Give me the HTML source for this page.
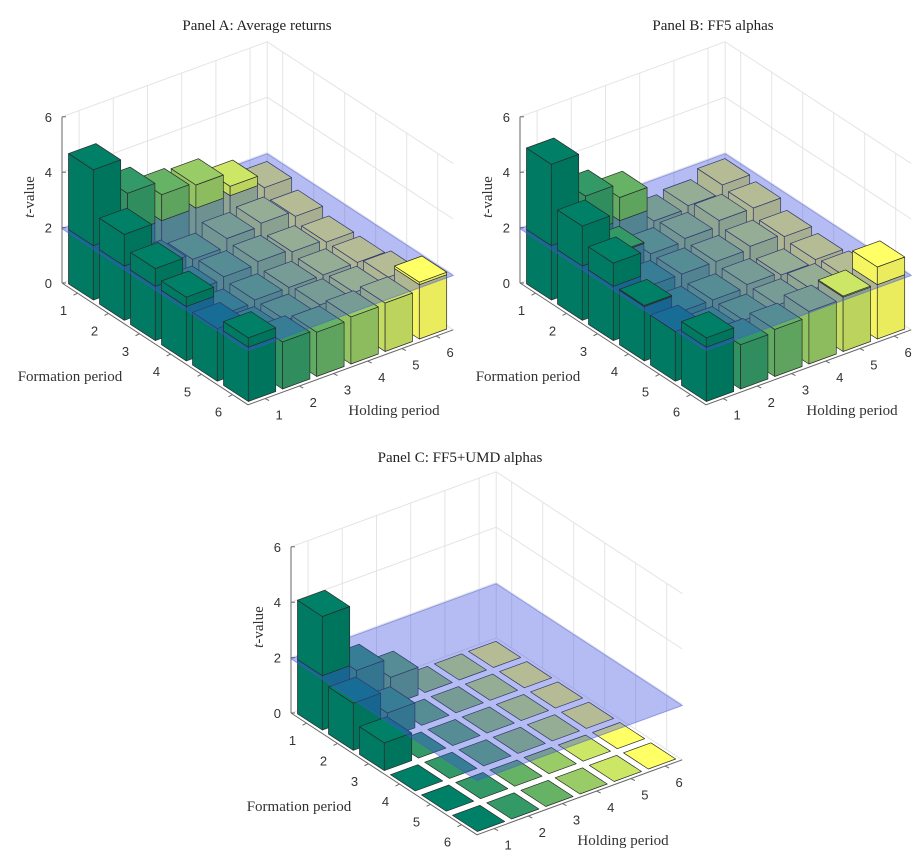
<!DOCTYPE html>
<html><head><meta charset="utf-8"><style>
html,body{margin:0;padding:0;background:#fff;}
svg{display:block;}
.title{font-family:"Liberation Serif",serif;font-size:15px;fill:#222;}
.tick{font-family:"Liberation Sans",sans-serif;font-size:13px;fill:#333;}
.axt{font-family:"Liberation Serif",serif;font-size:15px;fill:#333;}
</style></head><body>
<svg id="chart" width="924" height="858" viewBox="0 0 924 858" xmlns="http://www.w3.org/2000/svg"></svg>
<script>
const formationLabels = ["1","2","3","4","5","6"];
const holdingLabels = ["1","2","3","4","5","6"];
const zTicks = [0,2,4,6];
const threshold = 1.96;
const panelTitles = ["Panel A: Average returns","Panel B: FF5 alphas","Panel C: FF5+UMD alphas"];
// rows = formation period 1..6, cols = holding period 1..6
const panelAValues = [
 [4.7,3.4,2.9,2.8,2.3,1.8],
 [3.1,1.5,1.3,1.6,1.7,1.5],
 [2.6,1.3,1.4,1.5,1.4,1.3],
 [2.3,1.2,1.3,1.3,1.3,1.3],
 [1.9,1.3,1.3,1.4,1.4,1.5],
 [2.3,1.7,1.6,1.7,1.75,2.05]];
const panelBValues = [
 [4.9,3.3,2.8,1.5,1.6,1.9],
 [3.4,2.0,1.5,1.6,1.8,1.8],
 [2.8,1.5,1.5,1.5,1.6,1.5],
 [2.0,1.3,1.3,1.4,1.3,1.4],
 [1.8,1.3,1.3,1.4,1.5,1.5],
 [2.3,1.6,1.7,1.9,2.0,2.6]];
const panelCValues = [
 [4.1,1.7,1.0,0,0,0],
 [1.7,0.9,0,0,0,0],
 [1.0,0,0,0,0,0],
 [0,0,0,0,0,0],
 [0,0,0,0,0,0],
 [0,0,0,0,0,0]];

const NS="http://www.w3.org/2000/svg";
const svg=document.getElementById('chart');
function mk(tag,attrs,parent){const e=document.createElementNS(NS,tag);for(const k in attrs)e.setAttribute(k,attrs[k]);(parent||svg).appendChild(e);return e;}
function colorFor(i,k){const t=i/5;const r=Math.round(255*t*k),g=Math.round(255*(0.5+0.5*t)*k),b=Math.round(255*0.4*k);return `rgb(${r},${g},${b})`;}

function drawPanel(values,ox,oy,title,tx,ty,pname){
  const g=mk('g',{});
  
  
  const P=(f,h,z)=>[ox+(f-0.5)*31+(h-0.5)*34.2, oy+(f-0.5)*20.3-(h-0.5)*12.5-z*27.7];
  const pts=a=>a.map(p=>p[0].toFixed(1)+','+p[1].toFixed(1)).join(' ');
  const t=mk('text',{x:tx,y:ty,'text-anchor':'middle',class:'title'},g);t.textContent=title;
  
  // back walls grid
  const grid=mk('g',{stroke:'#e4e4e4','stroke-width':1,fill:'none'},g);
  
  for(const z of zTicks){
    mk('polyline',{points:pts([P(0.5,0.5,z),P(0.5,6.5,z),P(6.5,6.5,z)])},grid);
  }
  for(let i=1;i<=6;i++){
    mk('line',{x1:P(0.5,i,0)[0],y1:P(0.5,i,0)[1],x2:P(0.5,i,6)[0],y2:P(0.5,i,6)[1]},grid);
    mk('line',{x1:P(i,6.5,0)[0],y1:P(i,6.5,0)[1],x2:P(i,6.5,6)[0],y2:P(i,6.5,6)[1]},grid);
  }
  mk('line',{x1:P(0.5,6.5,0)[0],y1:P(0.5,6.5,0)[1],x2:P(0.5,6.5,6)[0],y2:P(0.5,6.5,6)[1]},grid);
  // axes
  const ax=mk('g',{stroke:'#666','stroke-width':1,fill:'none'},g);
  
  mk('line',{x1:P(0.5,0.5,0)[0],y1:P(0.5,0.5,0)[1],x2:P(0.5,0.5,6)[0],y2:P(0.5,0.5,6)[1]},ax);
  mk('polyline',{points:pts([P(0.5,0.5,0),P(6.5,0.5,0),P(6.5,6.5,0)])},ax);
  for(const z of zTicks){
    const p=P(0.5,0.5,z);
    mk('line',{x1:p[0],y1:p[1],x2:p[0]+4,y2:p[1]},ax);
    const tt=mk('text',{x:p[0]-10,y:p[1]+5,'text-anchor':'end',class:'tick'},g);tt.textContent=z;
    
  }
  formationLabels.forEach((lab,i)=>{
    const p=P(i+1,0.5,0);
    mk('line',{x1:p[0],y1:p[1],x2:p[0]-4,y2:p[1]+2},ax);
    const tt=mk('text',{x:p[0]-14,y:p[1]+22,'text-anchor':'middle',class:'tick'},g);tt.textContent=lab;
    
  });
  holdingLabels.forEach((lab,i)=>{
    const p=P(6.5,i+1,0);
    mk('line',{x1:p[0],y1:p[1],x2:p[0]+4,y2:p[1]+2},ax);
    const tt=mk('text',{x:p[0]+14,y:p[1]+21,'text-anchor':'middle',class:'tick'},g);tt.textContent=lab;
    
  });
  let a=mk('text',{x:ox+8,y:oy+98,'text-anchor':'middle',class:'axt'},g);a.textContent='Formation period';
  
  a=mk('text',{x:ox+332,y:oy+132,'text-anchor':'middle',class:'axt'},g);a.textContent='Holding period';
  
  a=mk('text',{x:0,y:0,'text-anchor':'middle',class:'axt',transform:`translate(${ox-28},${oy-86}) rotate(-90)`},g);
  a.innerHTML='<tspan font-style="italic">t</tspan>-value';
  

  const order=[];
  for(let f=1;f<=6;f++)for(let h=1;h<=6;h++)order.push([f,h]);
  order.sort((p,q)=>(p[0]-p[1])-(q[0]-q[1]) || (p[0]-q[0]));
  const w=0.4;
  const bars=mk('g',{stroke:'#2a2a2a','stroke-width':0.7,'stroke-linejoin':'round'},g);
  
  function drawBar(parent,f,h,z0,z1,top){
    const hi=h-1;
    if(z1>z0){
      const lf=mk('polygon',{points:pts([P(f-w,h-w,z0),P(f+w,h-w,z0),P(f+w,h-w,z1),P(f-w,h-w,z1)]),fill:colorFor(hi,0.96)},parent);
      
      const rf=mk('polygon',{points:pts([P(f+w,h-w,z0),P(f+w,h+w,z0),P(f+w,h+w,z1),P(f+w,h-w,z1)]),fill:colorFor(hi,0.92)},parent);
      
    }
    if(top){
      const tp=mk('polygon',{points:pts([P(f-w,h-w,z1),P(f+w,h-w,z1),P(f+w,h+w,z1),P(f-w,h+w,z1)]),fill:colorFor(hi,1)},parent);
      
    }
  }
  for(const [f,h] of order){
    const v=values[f-1][h-1];
    drawBar(bars,f,h,0,Math.min(v,threshold),v<=threshold);
  }
  const plane=mk('polygon',{points:pts([P(0.5,0.5,threshold),P(6.5,0.5,threshold),P(6.5,6.5,threshold),P(0.5,6.5,threshold)]),fill:'rgb(60,80,225)','fill-opacity':0.38,stroke:'rgb(70,90,210)','stroke-opacity':0.5,'stroke-width':1},g);
  
  const up=mk('g',{stroke:'#2a2a2a','stroke-width':0.7,'stroke-linejoin':'round'},g);
  
  for(const [f,h] of order){
    const v=values[f-1][h-1];
    if(v>threshold)drawBar(up,f,h,threshold,v,true);
  }
}
drawPanel(panelAValues,62,283,panelTitles[0],257,30,'panel-a');
drawPanel(panelBValues,520,283,panelTitles[1],713,30,'panel-b');
drawPanel(panelCValues,291,713,panelTitles[2],460,462,'panel-c');
</script>
</body></html>
